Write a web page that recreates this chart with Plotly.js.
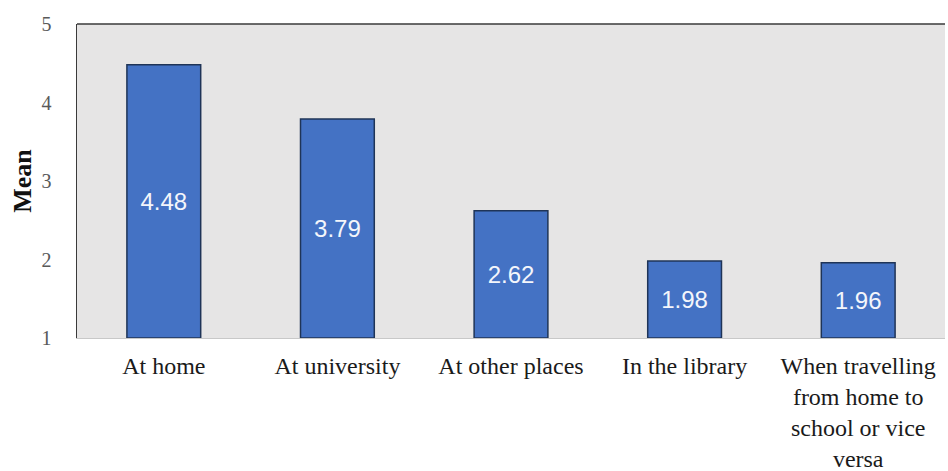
<!DOCTYPE html>
<html>
<head>
<meta charset="utf-8">
<script src="https://cdn.plot.ly/plotly-3.0.1.min.js"></script>
<style>
  html, body { margin: 0; padding: 0; background: #ffffff; }
  #chart { width: 948px; height: 471px; }
</style>
</head>
<body>
<div id="chart"></div>
<script>
// Mean rating by study location
const categories = [
  "At home",
  "At university",
  "At other places",
  "In the library",
  "When travelling<br>from home to<br>school or vice<br>versa"
];
const means = [4.48, 3.79, 2.62, 1.98, 1.96];
const meanLabels = ["4.48", "3.79", "2.62", "1.98", "1.96"];
const yTicks = [1, 2, 3, 4, 5];

const serif = "Liberation Serif, Times New Roman, serif";
const sans = "Liberation Sans, Arial, sans-serif";

// bars start at the axis floor of 1, so draw the height above it
const trace = {
  type: "bar",
  x: categories,
  y: means.map(v => v - 1),
  base: 1,
  text: meanLabels,
  textposition: "inside",
  insidetextanchor: "middle",
  textangle: 0,
  insidetextfont: { family: sans, size: 24, color: "#f4f6fb" },
  textfont: { family: sans, size: 24, color: "#f4f6fb" },
  marker: {
    color: "#4472c4",
    line: { color: "#1f3457", width: 1.5 }
  },
  width: 0.425,
  hoverinfo: "skip"
};

const layout = {
  width: 948,
  height: 471,
  margin: { l: 77, r: 3, t: 24, b: 133 },
  paper_bgcolor: "#ffffff",
  plot_bgcolor: "#e6e5e5",
  showlegend: false,
  font: { family: serif, color: "#222222" },
  xaxis: {
    type: "category",
    range: [-0.5, 4.5],
    showgrid: false,
    zeroline: false,
    showline: true,
    linecolor: "#c8c8c8",
    linewidth: 1,
    ticks: "",
    ticklabelstandoff: 6,
    tickfont: { family: serif, size: 24, color: "#1a1a1a" },
    fixedrange: true
  },
  yaxis: {
    range: [1, 5],
    tickvals: yTicks,
    ticktext: yTicks.map(String),
    showgrid: false,
    zeroline: false,
    showline: true,
    linecolor: "#3a3a3a",
    linewidth: 1.5,
    ticks: "",
    ticklabelstandoff: 20,
    tickfont: { family: serif, size: 20, color: "#595959" },
    title: {
      text: "<b>Mean</b>",
      font: { family: serif, size: 26, color: "#111111" },
      standoff: 2
    },
    fixedrange: true
  },
  shapes: [
    {
      type: "line", xref: "paper", yref: "paper",
      x0: 0, x1: 1, y0: 1, y1: 1,
      line: { color: "#3a3a3a", width: 1.5 }
    }
  ]
};

Plotly.newPlot("chart", [trace], layout, { displayModeBar: false, staticPlot: true });
</script>
</body>
</html>
